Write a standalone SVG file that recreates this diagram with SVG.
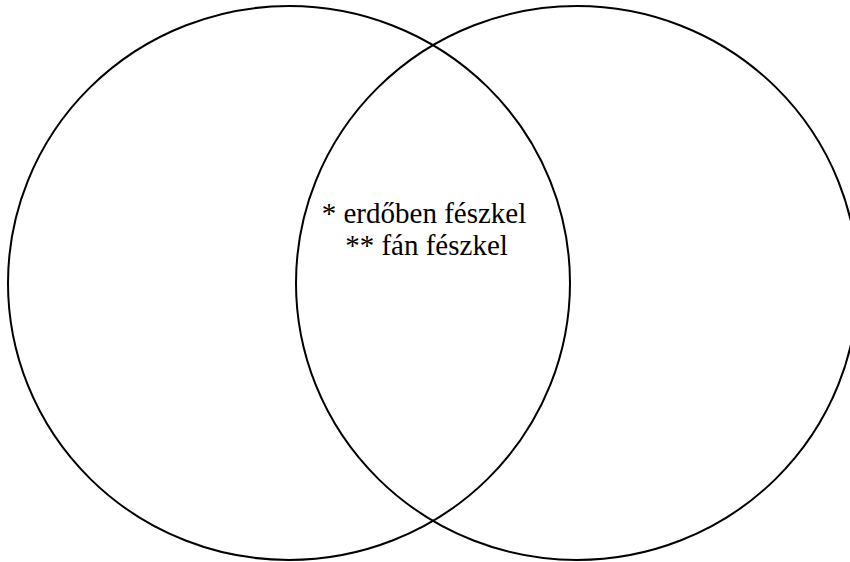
<svg xmlns="http://www.w3.org/2000/svg" width="850" height="562" viewBox="0 0 850 562">
<style>
.set{fill:none;stroke:#000;stroke-width:2}
.lbl{font-family:'Liberation Serif','Times New Roman',serif;font-size:29px;fill:#000;text-anchor:middle}
</style>
<rect width="850" height="562" fill="#fff"/>
<g id="set-left"><ellipse class="set" cx="289" cy="283" rx="281" ry="277"/></g>
<g id="set-right"><ellipse class="set" cx="577" cy="283" rx="281" ry="277"/></g>
<g id="label">
<text class="lbl" x="424" y="223">* erdőben fészkel</text>
<text class="lbl" x="426.5" y="255">** fán fészkel</text>
</g>
<g id="connectors"/>
</svg>
